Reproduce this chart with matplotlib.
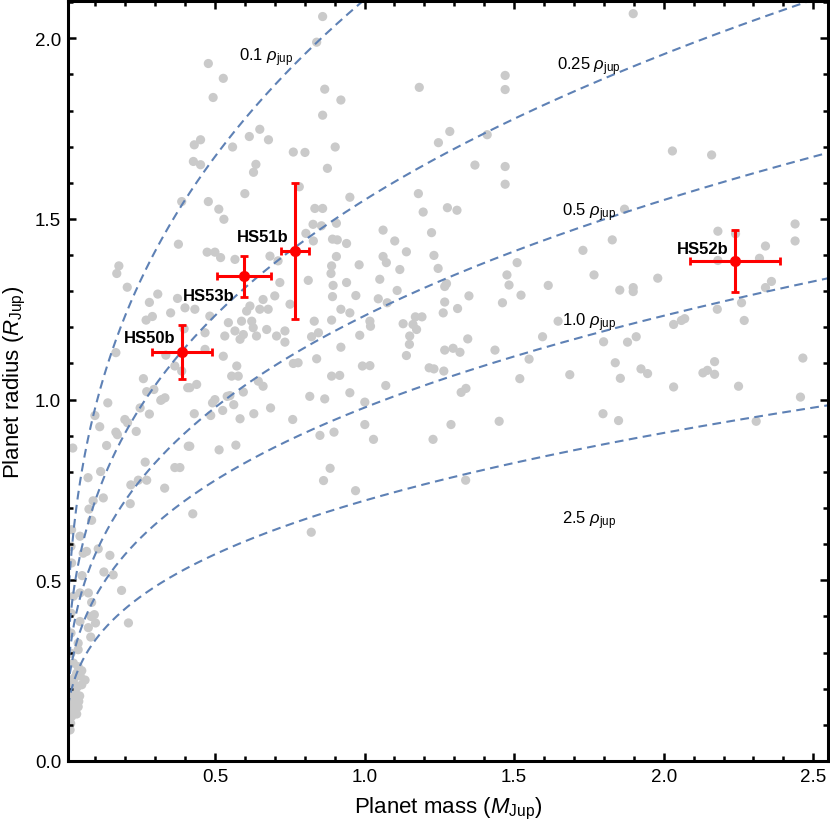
import matplotlib
matplotlib.use("Agg")
import matplotlib.pyplot as plt
import numpy as np
from matplotlib.ticker import MultipleLocator

plt.rcParams['font.family'] = ['Liberation Sans', 'DejaVu Sans']
plt.rcParams['mathtext.fontset'] = 'custom'
plt.rcParams['mathtext.rm'] = 'Liberation Sans'
plt.rcParams['mathtext.it'] = 'Liberation Sans:italic'
plt.rcParams['mathtext.bf'] = 'Liberation Sans:bold'

# known planets (grey background), mass and radius in Jupiter units
masa_conhecida = [
    0.478, 0.528, 0.494, 0.860, 0.840, 0.867, 0.860, 0.876, 0.431, 0.452, 0.559, 0.615, 0.650, 0.679,
    0.762, 0.801, 0.428, 0.452, 0.637, 0.629, 0.600, 0.782, 0.378, 0.389, 0.478, 0.513, 0.530,
    0.179, 0.172, 0.207, 0.309, 0.281, 0.352, 0.375, 0.291, 0.270, 0.397, 0.169, 0.336, 0.366, 0.261,
    0.272, 0.296, 0.322, 0.333, 0.142, 0.409, 0.389,
    1.898, 0.921, 1.183, 1.470, 1.470, 0.902, 1.247, 1.285, 1.410, 1.369, 1.470, 1.470, 1.180, 0.951,
    2.029, 2.160,
    0.474, 0.500, 0.519, 0.567, 0.400, 0.483, 0.433, 0.467, 0.533, 0.545, 0.589, 0.567, 0.595, 0.584,
    0.617, 0.606, 0.628, 0.623, 0.639, 0.661, 0.650, 0.678, 0.700, 0.684, 0.711, 0.717, 0.751, 0.673,
    0.706, 0.734, 0.734, 0.528, 0.573, 0.556, 0.578, 0.467, 0.439, 0.416, 0.541, 0.595, 0.645, 0.661,
    0.834, 0.860, 0.828, 0.856, 0.804, 0.829, 0.893, 0.909, 0.940, 0.906, 1.062, 1.101, 1.140, 1.224,
    1.196, 1.277, 1.232, 1.062, 1.073, 0.982, 0.906, 0.890, 0.888, 1.118, 1.246, 0.812, 0.940, 0.895,
    1.051, 0.893, 0.971, 1.046, 1.109, 0.921, 0.951, 1.076, 1.268, 1.268, 1.263, 1.170, 1.192, 1.129,
    1.162, 1.174, 1.018, 1.020, 0.890, 0.832, 0.984, 0.846, 0.823, 0.921, 0.840, 0.762, 0.778, 1.151,
    1.150, 1.140, 1.268, 0.993, 1.018, 0.890, 0.917, 1.216, 1.232, 1.265, 1.071, 0.817, 0.951,
    1.309, 1.730, 1.510, 1.476, 1.767, 1.274, 1.483, 1.614, 1.349, 1.523, 1.461, 1.311, 1.647, 1.595,
    1.345, 1.799, 1.296, 1.319, 1.436, 1.550, 1.519, 1.686, 1.323, 1.339, 1.289, 1.450, 1.797, 1.338,
    1.869, 1.828, 2.181, 2.240, 2.439, 2.439, 2.340, 2.181, 2.320, 1.980, 1.853, 1.898, 1.898, 2.360,
    2.340, 2.260, 2.179, 2.269, 2.033, 2.059, 2.070, 1.879, 1.908, 1.838, 1.855, 1.924, 1.946, 2.170,
    2.131, 2.146, 2.170, 2.465, 2.033, 2.250, 2.457, 1.849, 2.309,
    0.550, 0.500, 0.492, 0.431, 0.486, 0.526, 0.563, 0.584, 0.630, 0.686, 0.760, 0.867, 1.001, 1.001,
    0.851, 0.898, 1.030, 1.229, 0.416, 0.514, 0.570, 0.885, 0.863, 0.970, 0.426, 0.822,
    0.099, 0.115, 0.169, 0.174, 0.138, 0.199, 0.208, 0.237, 0.250, 0.281, 0.319, 0.025, 0.118, 0.076,
    0.267, 0.219, 0.244, 0.272, 0.332, 0.366, 0.383, 0.411, 0.093, 0.127, 0.079, 0.217, 0.088, 0.021,
    0.049, 0.110, 0.060, 0.071, 0.021, 0.129, 0.160, 0.149, 0.188, 0.056, 0.049, 0.077, 0.088, 0.211,
    0.086, 0.101, 0.097, 0.077, 0.049, 0.085, 0.043, 0.043, 0.019, 0.027, 0.019, 0.019, 0.019,
    0.027, 0.043, 0.038, 0.066, 0.055, 0.032, 0.021, 0.032, 0.043, 0.027, 0.021, 0.018, 0.016, 0.050,
    0.040, 0.028, 0.048, 0.036, 0.025, 0.038, 0.024, 0.045, 0.030, 0.055, 0.020,
]
raio_conhecido = [
    1.930, 1.889, 1.836, 2.060, 1.989, 1.859, 1.787, 1.640, 1.705, 1.719, 1.699, 1.728, 1.748, 1.719,
    1.685, 1.684, 1.659, 1.650, 1.651, 1.629, 1.570, 1.589, 1.430, 1.548, 1.548, 1.527, 1.499,
    1.370, 1.349, 1.311, 1.292, 1.269, 1.240, 1.280, 1.230, 1.220, 1.196, 1.130, 1.123, 1.093, 1.058,
    1.022, 1.028, 1.000, 1.005, 0.991, 1.033, 1.079,
    2.068, 1.829, 1.864, 1.897, 1.858, 1.699, 1.711, 1.742, 1.733, 1.649, 1.645, 1.596, 1.570, 1.560,
    1.688, 1.677,
    1.408, 1.408, 1.393, 1.388, 1.254, 1.231, 1.250, 1.185, 1.176, 1.213, 1.217, 1.190, 1.180, 1.167,
    1.259, 1.245, 1.199, 1.217, 1.176, 1.277, 1.250, 1.250, 1.287, 1.397, 1.384, 1.324, 1.264, 1.194,
    1.176, 1.190, 1.159, 1.120, 1.093, 1.065, 1.065, 1.139, 1.042, 1.033, 1.009, 1.021, 1.051, 1.037,
    1.529, 1.529, 1.485, 1.481, 1.460, 1.439, 1.444, 1.442, 1.432, 1.488, 1.469, 1.439, 1.409, 1.462,
    1.519, 1.531, 1.399, 1.396, 1.379, 1.373, 1.396, 1.370, 1.349, 1.360, 1.363, 1.330, 1.324, 1.316,
    1.333, 1.285, 1.288, 1.279, 1.302, 1.250, 1.240, 1.268, 1.313, 1.270, 1.240, 1.229, 1.229, 1.210,
    1.208, 1.194, 1.217, 1.203, 1.220, 1.217, 1.178, 1.185, 1.174, 1.145, 1.113, 1.100, 1.102, 1.176,
    1.153, 1.122, 1.137, 1.093, 1.094, 1.065, 1.067, 1.088, 1.085, 1.079, 1.039, 1.009, 1.019,
    1.524, 1.413, 1.379, 1.345, 1.345, 1.321, 1.317, 1.316, 1.287, 1.289, 1.268, 1.252, 1.217, 1.174,
    1.168, 1.160, 1.142, 1.131, 1.137, 1.112, 1.058, 1.069, 1.020, 1.031, 0.931, 0.940, 0.961, 0.777,
    1.527, 1.442, 1.466, 1.459, 1.486, 1.439, 1.425, 1.385, 1.391, 1.336, 1.303, 1.310, 1.299, 1.327,
    1.310, 1.268, 1.250, 1.219, 1.208, 1.219, 1.224, 1.159, 1.174, 1.102, 1.059, 1.085, 1.072, 1.105,
    1.074, 1.081, 1.070, 1.115, 1.035, 1.037, 1.007, 0.942, 0.940,
    1.011, 1.000, 0.991, 0.961, 0.956, 0.970, 0.986, 0.947, 0.961, 0.977, 0.945, 1.002, 0.993, 0.931,
    0.901, 0.910, 0.890, 0.890, 0.871, 0.861, 0.874, 0.810, 0.776, 0.748, 0.684, 0.633,
    0.956, 0.925, 0.910, 0.903, 0.873, 0.945, 0.936, 0.912, 0.977, 0.960, 0.998, 0.866, 0.801, 0.784,
    0.827, 0.764, 0.777, 0.777, 0.755, 0.812, 0.812, 0.871, 0.720, 0.728, 0.697, 0.712, 0.666, 0.640,
    0.622, 0.587, 0.575, 0.580, 0.548, 0.523, 0.515, 0.569, 0.472, 0.513, 0.465, 0.465, 0.439, 0.382,
    0.400, 0.382, 0.405, 0.369, 0.386, 0.343, 0.326, 0.308, 0.594, 0.456, 0.409, 0.354, 0.298,
    0.271, 0.261, 0.243, 0.224, 0.211, 0.197, 0.178, 0.164, 0.150, 0.137, 0.123, 0.104, 0.086, 0.235,
    0.205, 0.215, 0.180, 0.185, 0.155, 0.130, 0.145, 0.165, 0.230, 0.250, 0.200,
]

# new planets
nomes = ["HS50b", "HS51b", "HS52b", "HS53b"]
massa_hs = [0.391, 0.768, 2.238, 0.596]
massa_err = [0.10, 0.046, 0.15, 0.09]
raio_hs = [1.131, 1.410, 1.383, 1.342]
raio_err_baixo = [0.073, 0.188, 0.084, 0.057]
raio_err_cima = [0.076, 0.189, 0.086, 0.055]
# where the names are written
nome_x = [0.283, 0.661, 2.131, 0.478]
nome_y = [1.172, 1.450, 1.419, 1.288]

# iso-density curves, in units of Jupiter density
densidades = [0.1, 0.25, 0.5, 1.0, 2.5]
rotulos_dens = ["0.1", "0.25", "0.5", "1.0", "2.5"]
rotulo_x = [0.672, 1.748, 1.750, 1.750, 1.750]
rotulo_y = [1.950, 1.923, 1.521, 1.216, 0.668]
fator_raio = 69911.0 / 71492.0   # mean / equatorial Jupiter radius

cinza = "#cacaca"
azul = "#5e81b5"

fig = plt.figure(figsize=(8.30, 8.29), dpi=100)
ax = fig.add_axes([68 / 830, 1 - 762 / 829, (828 - 68) / 830, (762 - 2) / 829])

ax.scatter(masa_conhecida, raio_conhecido, s=44, color=cinza, edgecolors='none', zorder=1)

m = np.linspace(0.0001, 2.6, 800)
for rho, txt, tx, ty in zip(densidades, rotulos_dens, rotulo_x, rotulo_y):
    ax.plot(m, fator_raio * (m / rho) ** (1 / 3), color=azul, lw=1.5, ls=(0, (4.2, 2.6)), zorder=2)
    ax.text(tx, ty, txt + r" $\rho_{\rm jup}$", fontsize=12, ha='center', va='center', zorder=3)

ax.errorbar(massa_hs, raio_hs, xerr=massa_err, yerr=[raio_err_baixo, raio_err_cima],
            fmt='o', color='red', ms=7, elinewidth=2.2, capsize=2.6, capthick=2, zorder=4)
for n, x, y in zip(nomes, nome_x, nome_y):
    ax.text(x, y, n, fontsize=12, fontweight='bold', ha='center', va='center', zorder=5)

ax.set_xlim(0.009, 2.549)
ax.set_ylim(0.0, 2.103)
ax.set_xticks([0.5, 1.0, 1.5, 2.0, 2.5])
ax.set_yticks([0.0, 0.5, 1.0, 1.5, 2.0])
ax.xaxis.set_minor_locator(MultipleLocator(0.1))
ax.yaxis.set_minor_locator(MultipleLocator(0.1))
ax.tick_params(which='both', direction='in', top=True, right=True, width=1.8, labelsize=13.5)
ax.tick_params(which='major', length=6, pad=5)
ax.tick_params(which='minor', length=3.5)
for s in ax.spines.values():
    s.set_linewidth(2.2)

ax.set_xlabel(r"Planet mass ($M_{\rm Jup}$)", fontsize=16, labelpad=7)
ax.set_ylabel(r"Planet radius ($R_{\rm Jup}$)", fontsize=16, labelpad=5)

fig.savefig("out.png", dpi=100)
